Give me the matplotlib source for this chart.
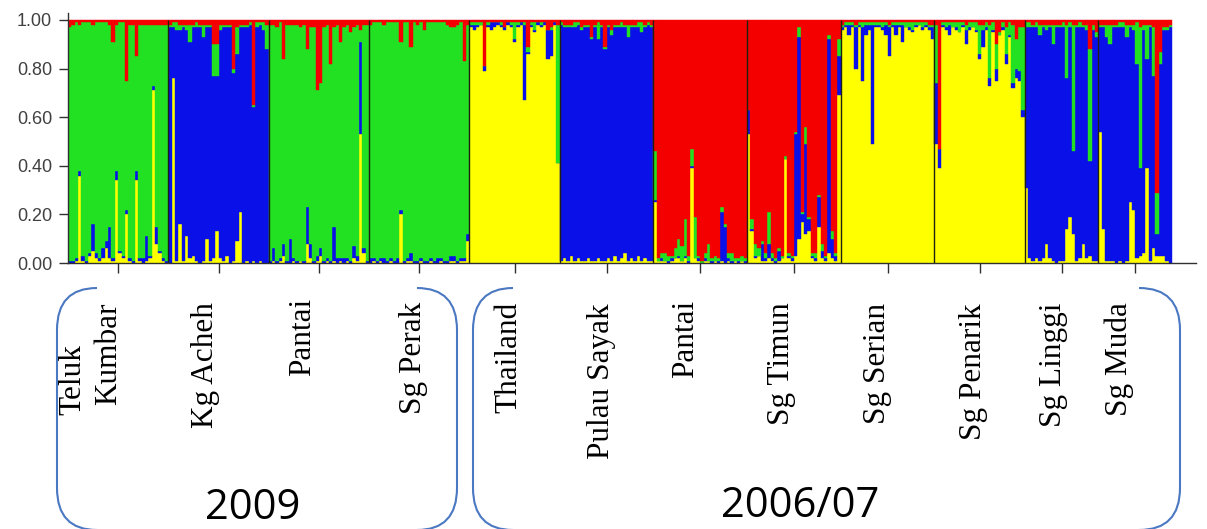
import numpy as np
import matplotlib.pyplot as plt
from matplotlib.path import Path
from matplotlib.patches import PathPatch

# membership per individual: (yellow, blue, green); red is the remainder to 1
q_teluk_kumbar = [
    (0.00, 0.01, 0.96), (0.00, 0.01, 0.97), (0.01, 0.01, 0.97), (0.36, 0.02, 0.60),
    (0.01, 0.02, 0.96), (0.00, 0.01, 0.98), (0.03, 0.01, 0.95), (0.05, 0.11, 0.82),
    (0.02, 0.02, 0.95), (0.01, 0.01, 0.97), (0.02, 0.04, 0.93), (0.06, 0.03, 0.90),
    (0.02, 0.13, 0.83), (0.01, 0.01, 0.89), (0.34, 0.04, 0.60), (0.04, 0.01, 0.94),
    (0.02, 0.01, 0.96), (0.20, 0.02, 0.53), (0.01, 0.01, 0.96), (0.00, 0.01, 0.97),
    (0.34, 0.04, 0.47), (0.01, 0.01, 0.96), (0.00, 0.02, 0.96), (0.01, 0.10, 0.87),
    (0.02, 0.01, 0.95), (0.71, 0.02, 0.25), (0.08, 0.07, 0.83), (0.04, 0.01, 0.93),
    (0.01, 0.01, 0.96), (0.00, 0.01, 0.97),
]
q_kg_acheh = [
    (0.00, 0.97, 0.01), (0.76, 0.21, 0.02), (0.01, 0.95, 0.03), (0.16, 0.80, 0.02),
    (0.01, 0.96, 0.01), (0.11, 0.85, 0.02), (0.02, 0.89, 0.07), (0.03, 0.94, 0.01),
    (0.01, 0.96, 0.02), (0.00, 0.97, 0.01), (0.01, 0.92, 0.05), (0.10, 0.87, 0.01),
    (0.01, 0.96, 0.01), (0.02, 0.75, 0.13), (0.13, 0.64, 0.13), (0.02, 0.94, 0.02),
    (0.01, 0.96, 0.01), (0.03, 0.94, 0.01), (0.00, 0.97, 0.01), (0.01, 0.77, 0.02),
    (0.09, 0.77, 0.11), (0.21, 0.76, 0.01), (0.00, 0.97, 0.01), (0.01, 0.96, 0.01),
    (0.00, 0.98, 0.01), (0.01, 0.63, 0.01), (0.00, 0.97, 0.02), (0.01, 0.97, 0.01),
    (0.00, 0.96, 0.03), (0.00, 0.88, 0.10),
]
q_pantai_09 = [
    (0.00, 0.01, 0.97), (0.01, 0.05, 0.92), (0.00, 0.01, 0.96), (0.01, 0.01, 0.97),
    (0.03, 0.05, 0.76), (0.00, 0.01, 0.97), (0.00, 0.10, 0.88), (0.01, 0.01, 0.96),
    (0.00, 0.01, 0.97), (0.01, 0.00, 0.96), (0.00, 0.01, 0.97), (0.08, 0.15, 0.65),
    (0.02, 0.06, 0.89), (0.00, 0.01, 0.96), (0.01, 0.02, 0.68), (0.03, 0.03, 0.68),
    (0.00, 0.01, 0.96), (0.01, 0.01, 0.96), (0.00, 0.01, 0.81), (0.01, 0.14, 0.82),
    (0.00, 0.02, 0.96), (0.01, 0.01, 0.89), (0.00, 0.02, 0.95), (0.01, 0.01, 0.96),
    (0.00, 0.01, 0.94), (0.02, 0.05, 0.90), (0.01, 0.02, 0.95), (0.53, 0.38, 0.05),
    (0.04, 0.02, 0.92), (0.00, 0.01, 0.97),
]
q_sg_perak = [
    (0.00, 0.02, 0.96), (0.01, 0.01, 0.97), (0.00, 0.01, 0.98), (0.01, 0.01, 0.97),
    (0.00, 0.02, 0.96), (0.00, 0.01, 0.98), (0.01, 0.01, 0.97), (0.00, 0.01, 0.98),
    (0.00, 0.02, 0.97), (0.20, 0.02, 0.69), (0.00, 0.01, 0.98), (0.01, 0.01, 0.97),
    (0.01, 0.03, 0.85), (0.00, 0.01, 0.98), (0.00, 0.01, 0.97), (0.01, 0.01, 0.97),
    (0.00, 0.01, 0.95), (0.00, 0.01, 0.98), (0.01, 0.01, 0.97), (0.00, 0.01, 0.98),
    (0.00, 0.02, 0.97), (0.01, 0.01, 0.97), (0.00, 0.01, 0.98), (0.00, 0.01, 0.97),
    (0.01, 0.02, 0.94), (0.01, 0.02, 0.94), (0.00, 0.01, 0.97), (0.01, 0.01, 0.97),
    (0.01, 0.01, 0.81), (0.09, 0.03, 0.86),
]
q_thailand = [
    (0.97, 0.01, 0.01), (0.96, 0.02, 0.01), (0.97, 0.01, 0.01), (0.98, 0.00, 0.01),
    (0.79, 0.02, 0.00), (0.97, 0.01, 0.01), (0.96, 0.03, 0.00), (0.97, 0.02, 0.00),
    (0.98, 0.01, 0.00), (0.97, 0.01, 0.01), (0.96, 0.01, 0.00), (0.98, 0.01, 0.00),
    (0.97, 0.01, 0.01), (0.91, 0.01, 0.07), (0.97, 0.01, 0.01), (0.98, 0.01, 0.00),
    (0.67, 0.31, 0.01), (0.86, 0.01, 0.02), (0.97, 0.01, 0.01), (0.95, 0.01, 0.03),
    (0.98, 0.01, 0.00), (0.97, 0.01, 0.01), (0.98, 0.01, 0.00), (0.84, 0.12, 0.00),
    (0.85, 0.11, 0.01), (0.98, 0.01, 0.00), (0.41, 0.00, 0.57),
]
q_pulau_sayak = [
    (0.01, 0.97, 0.01), (0.02, 0.95, 0.01), (0.01, 0.96, 0.01), (0.03, 0.94, 0.01),
    (0.01, 0.96, 0.02), (0.02, 0.96, 0.01), (0.01, 0.95, 0.01), (0.01, 0.96, 0.01),
    (0.02, 0.95, 0.01), (0.01, 0.91, 0.01), (0.01, 0.96, 0.01), (0.02, 0.90, 0.07),
    (0.01, 0.96, 0.01), (0.01, 0.87, 0.01), (0.02, 0.95, 0.01), (0.01, 0.93, 0.02),
    (0.03, 0.94, 0.01), (0.01, 0.96, 0.01), (0.02, 0.95, 0.02), (0.04, 0.93, 0.01),
    (0.01, 0.92, 0.05), (0.02, 0.95, 0.01), (0.01, 0.96, 0.01), (0.03, 0.94, 0.02),
    (0.01, 0.94, 0.04), (0.02, 0.95, 0.01), (0.01, 0.97, 0.01), (0.01, 0.96, 0.01),
]
q_pantai_06 = [
    (0.25, 0.01, 0.20), (0.01, 0.00, 0.01), (0.01, 0.01, 0.02), (0.01, 0.00, 0.03),
    (0.00, 0.01, 0.02), (0.01, 0.01, 0.01), (0.02, 0.00, 0.04), (0.02, 0.01, 0.07),
    (0.01, 0.00, 0.06), (0.02, 0.01, 0.15), (0.00, 0.01, 0.02), (0.39, 0.01, 0.07),
    (0.02, 0.00, 0.17), (0.01, 0.01, 0.01), (0.00, 0.00, 0.01), (0.01, 0.01, 0.02),
    (0.01, 0.00, 0.07), (0.00, 0.01, 0.01), (0.01, 0.00, 0.02), (0.00, 0.01, 0.01),
    (0.01, 0.20, 0.02), (0.00, 0.15, 0.01), (0.01, 0.01, 0.02), (0.00, 0.01, 0.03),
    (0.01, 0.00, 0.01), (0.00, 0.01, 0.01), (0.01, 0.00, 0.02), (0.00, 0.01, 0.01),
]
q_sg_timun = [
    (0.53, 0.10, 0.00), (0.13, 0.01, 0.04), (0.02, 0.01, 0.05), (0.03, 0.00, 0.03),
    (0.01, 0.07, 0.01), (0.01, 0.01, 0.02), (0.02, 0.06, 0.13), (0.01, 0.01, 0.02),
    (0.00, 0.01, 0.01), (0.01, 0.04, 0.01), (0.02, 0.00, 0.01), (0.43, 0.00, 0.01),
    (0.02, 0.01, 0.01), (0.01, 0.01, 0.01), (0.03, 0.50, 0.01), (0.10, 0.83, 0.04),
    (0.17, 0.03, 0.01), (0.12, 0.37, 0.07), (0.13, 0.05, 0.01), (0.02, 0.01, 0.01),
    (0.01, 0.01, 0.02), (0.15, 0.12, 0.01), (0.02, 0.03, 0.03), (0.01, 0.01, 0.01),
    (0.04, 0.88, 0.02), (0.02, 0.08, 0.03), (0.01, 0.02, 0.01), (0.69, 0.16, 0.07),
]
q_sg_serian = [
    (0.96, 0.01, 0.01), (0.97, 0.01, 0.01), (0.94, 0.04, 0.01), (0.97, 0.01, 0.01),
    (0.80, 0.17, 0.01), (0.97, 0.01, 0.01), (0.75, 0.22, 0.02), (0.94, 0.04, 0.01),
    (0.96, 0.02, 0.01), (0.49, 0.49, 0.01), (0.97, 0.01, 0.01), (0.97, 0.01, 0.01),
    (0.96, 0.01, 0.02), (0.94, 0.04, 0.01), (0.85, 0.12, 0.01), (0.97, 0.01, 0.01),
    (0.94, 0.04, 0.01), (0.97, 0.01, 0.01), (0.91, 0.07, 0.01), (0.97, 0.00, 0.02),
    (0.96, 0.01, 0.02), (0.95, 0.01, 0.03), (0.97, 0.01, 0.01), (0.98, 0.00, 0.01),
    (0.96, 0.01, 0.02), (0.97, 0.01, 0.01), (0.96, 0.01, 0.01), (0.92, 0.05, 0.01),
]
q_sg_penarik = [
    (0.49, 0.25, 0.24), (0.39, 0.08, 0.00), (0.97, 0.01, 0.01), (0.96, 0.01, 0.02),
    (0.94, 0.04, 0.01), (0.97, 0.00, 0.02), (0.96, 0.01, 0.02), (0.95, 0.00, 0.04),
    (0.97, 0.01, 0.01), (0.90, 0.06, 0.02), (0.96, 0.01, 0.02), (0.97, 0.00, 0.02),
    (0.95, 0.01, 0.03), (0.84, 0.02, 0.12), (0.89, 0.07, 0.02), (0.96, 0.01, 0.02),
    (0.73, 0.03, 0.22), (0.95, 0.01, 0.03), (0.75, 0.05, 0.10), (0.94, 0.00, 0.01),
    (0.96, 0.01, 0.02), (0.82, 0.04, 0.11), (0.93, 0.01, 0.05), (0.72, 0.02, 0.24),
    (0.76, 0.04, 0.12), (0.75, 0.04, 0.18), (0.60, 0.03, 0.34),
]
q_sg_linggi = [
    (0.31, 0.66, 0.02), (0.02, 0.95, 0.02), (0.01, 0.96, 0.01), (0.02, 0.95, 0.02),
    (0.01, 0.93, 0.04), (0.02, 0.95, 0.01), (0.08, 0.88, 0.02), (0.02, 0.95, 0.01),
    (0.01, 0.89, 0.08), (0.00, 0.97, 0.01), (0.01, 0.96, 0.01), (0.01, 0.96, 0.02),
    (0.14, 0.62, 0.22), (0.19, 0.78, 0.02), (0.12, 0.34, 0.52), (0.01, 0.96, 0.01),
    (0.02, 0.95, 0.02), (0.08, 0.89, 0.01), (0.02, 0.94, 0.02), (0.03, 0.39, 0.46),
    (0.01, 0.95, 0.02), (0.01, 0.92, 0.02),
]
q_sg_muda = [
    (0.54, 0.43, 0.01), (0.14, 0.83, 0.01), (0.01, 0.92, 0.05), (0.01, 0.89, 0.08),
    (0.01, 0.96, 0.01), (0.00, 0.97, 0.01), (0.01, 0.96, 0.02), (0.00, 0.97, 0.02),
    (0.01, 0.92, 0.05), (0.25, 0.72, 0.01), (0.22, 0.74, 0.02), (0.02, 0.80, 0.17),
    (0.03, 0.36, 0.58), (0.04, 0.92, 0.02), (0.39, 0.45, 0.14), (0.01, 0.96, 0.01),
    (0.06, 0.71, 0.20), (0.03, 0.09, 0.17), (0.03, 0.79, 0.05), (0.03, 0.93, 0.01),
    (0.01, 0.95, 0.01), (0.00, 0.97, 0.01),
]

populations = [q_teluk_kumbar, q_kg_acheh, q_pantai_09, q_sg_perak,
               q_thailand, q_pulau_sayak, q_pantai_06, q_sg_timun,
               q_sg_serian, q_sg_penarik, q_sg_linggi, q_sg_muda]

pop_labels = ['Kg Acheh', 'Pantai', 'Sg Perak', 'Thailand', 'Pulau Sayak', 'Pantai',
              'Sg Timun', 'Sg Serian', 'Sg Penarik', 'Sg Linggi', 'Sg Muda']
y_ticks = [0.0, 0.2, 0.4, 0.6, 0.8, 1.0]

c_yellow = '#ffff00'
c_blue = '#0a10e8'
c_green = '#22e022'
c_red = '#f40000'

W, H = 1207, 529
fig = plt.figure(figsize=(W / 100, H / 100), dpi=100)

q = np.vstack([np.array(p) for p in populations])
n = len(q)
yel, blu, grn = q[:, 0], q[:, 1], q[:, 2]
red = np.clip(1 - q.sum(axis=1), 0, None)

sizes = [len(p) for p in populations]
bounds = np.concatenate([[0], np.cumsum(sizes)])
centers = (bounds[:-1] + bounds[1:]) / 2

# plot area: bars from px 68 to 1172, axis line runs on to 1196
ax = fig.add_axes([68 / W, (H - 263) / H, 1128 / W, 250 / H])
x = np.arange(n)
bottom = np.zeros(n)
for vals, col in [(yel, c_yellow), (blu, c_blue), (grn, c_green), (red, c_red)]:
    ax.bar(x, vals, width=1.0, bottom=bottom, align='edge', color=col,
           edgecolor=col, linewidth=0.3)
    bottom = bottom + vals

ax.vlines(bounds[1:-1], 0, 1, color='#202010', lw=1.0)

ax.set_xlim(0, n * 1128 / 1104)
ax.set_ylim(0, 250 / 243)
ax.set_yticks(y_ticks)
ax.set_yticklabels(['%.2f' % t for t in y_ticks])
ax.set_xticks(centers)
ax.set_xticklabels([])
ax.spines['top'].set_visible(False)
ax.spines['right'].set_visible(False)
for s in ['left', 'bottom']:
    ax.spines[s].set_color('#303030')
    ax.spines[s].set_linewidth(1.0)
ax.tick_params(axis='y', length=6.5, width=1.0, color='#303030', pad=5,
               labelsize=13, labelcolor='#404040')
ax.tick_params(axis='x', length=7, width=1.0, color='#303030')
for lab in ax.get_yticklabels():
    lab.set_family(['Liberation Sans', 'DejaVu Sans'])

# overlay in pixel coordinates for the labels and brackets
ov = fig.add_axes([0, 0, 1, 1])
ov.set_xlim(0, W)
ov.set_ylim(H, 0)
ov.axis('off')
ov.patch.set_alpha(0)

serif = ['Liberation Serif', 'DejaVu Serif']
ov.text(73, 415, 'Teluk', rotation=90, ha='center', va='bottom', fontsize=22.5, family=serif)
ov.text(109, 405, 'Kumbar', rotation=90, ha='center', va='bottom', fontsize=22.5, family=serif)
label_x = [205, 303, 414, 509, 602, 686, 782, 877, 973, 1054, 1119]
label_top = [302, 298, 302, 302, 303, 300, 302, 303, 303, 303, 302]
for lab, lx, ly in zip(pop_labels, label_x, label_top):
    ov.text(lx, ly, lab, rotation=90, ha='center', va='top', fontsize=22.5, family=serif)

sans = ['Open Sans', 'DejaVu Sans']
ov.text(253, 519, '2009', ha='center', va='baseline', fontsize=30, family=sans)
ov.text(800, 517, '2006/07', ha='center', va='baseline', fontsize=30, family=sans)


def bracket(x_side, x_end, top, bot, ry):
    verts = [(x_end, top), (x_side, top), (x_side, top + ry),
             (x_side, bot - ry), (x_side, bot), (x_end, bot)]
    codes = [Path.MOVETO, Path.CURVE3, Path.CURVE3,
             Path.LINETO, Path.CURVE3, Path.CURVE3]
    ov.add_patch(PathPatch(Path(verts, codes), fill=False,
                           edgecolor='#4a78c2', lw=1.5))


bracket(57, 97, 288, 530, 42)
bracket(457, 417, 288, 530, 42)
bracket(473, 513, 288, 530, 42)
bracket(1180, 1139, 288, 530, 42)

fig.savefig('out.png', dpi=100)
